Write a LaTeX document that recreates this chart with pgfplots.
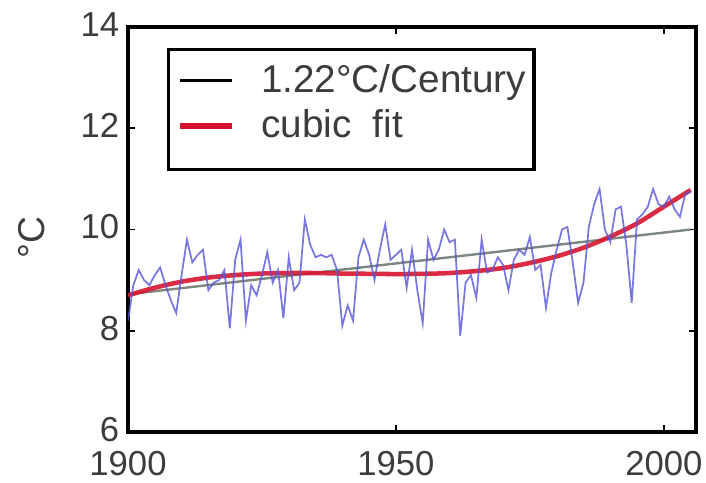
\documentclass[border=0pt]{standalone}
\usepackage{fontspec}
\setmainfont{Liberation Sans}
\usepackage{pgfplots}
\pgfplotsset{compat=1.18}
\definecolor{serblue}{RGB}{85,85,215}
\definecolor{fitred}{RGB}{215,20,45}
\definecolor{trendgray}{RGB}{125,135,125}
\definecolor{txt}{RGB}{60,60,60}
\begin{document}
\begin{tikzpicture}
\begin{axis}[
  name=ax,
  scale only axis,
  width=426pt, height=303.75pt,
  xmin=1900, xmax=2006, ymin=6, ymax=14,
  xtick={1900,1950,2000}, ytick={6,8,10,12,14},
  /pgf/number format/1000 sep={},
  /pgf/number format/assume math mode=true,
  tick align=inside,
  major tick length=5pt,
  tick style={line width=1.3pt, black},
  axis line style={line width=2.5pt, black},
  ticklabel style={font=\fontsize{26}{26}\selectfont, text=txt, inner sep=0.5pt},
  xticklabel style={yshift=-13.5pt},
  yticklabel style={xshift=-6pt, yshift=2pt},
  ylabel={°C},
  ylabel style={font=\fontsize{28}{28}\selectfont, text=txt, at={(axis description cs:-0.169,0.48)}, anchor=center},
  legend style={at={(rel axis cs:0.0687,0.948)}, anchor=north west,
    draw=black, line width=2.3pt, fill=white,
    font=\fontsize{29}{33}\selectfont, text=txt,
    inner xsep=6pt, inner ysep=11pt,
    nodes={inner sep=0pt, text height=21pt, text depth=13pt},
    /tikz/every odd column/.append style={column sep=20pt},
    cells={anchor=west}},
  legend image code/.code={\draw (0pt,5pt) -- (39pt,5pt);},
]
% linear trend
\addplot[trendgray, line width=1.8pt, forget plot] coordinates {(1900,8.72) (2005,10.0)};
% cubic fit
\addplot[fitred, line width=3.4pt, opacity=0.9, smooth, forget plot] coordinates {
(1900,8.70) (1905,8.85) (1910,8.97) (1915,9.05) (1920,9.10) (1925,9.13) (1930,9.14)
(1935,9.14) (1940,9.13) (1945,9.125) (1950,9.12) (1955,9.124) (1960,9.14) (1965,9.18)
(1970,9.24) (1975,9.34) (1980,9.47) (1985,9.64) (1990,9.86) (1995,10.12) (2000,10.45) (2005,10.78)};
% annual series
\addplot[serblue, line width=1.3pt, opacity=0.8, forget plot] coordinates {
(1900,8.2) (1901,8.9) (1902,9.2) (1903,9.0) (1904,8.9) (1905,9.1) (1906,9.25) (1907,8.9)
(1908,8.6) (1909,8.35) (1910,9.1) (1911,9.8) (1912,9.35) (1913,9.5) (1914,9.6) (1915,8.8)
(1916,8.95) (1917,9.0) (1918,9.2) (1919,8.05) (1920,9.4) (1921,9.8) (1922,8.2) (1923,8.9)
(1924,8.7) (1925,9.1) (1926,9.55) (1927,8.95) (1928,9.2) (1929,8.25) (1930,9.45) (1931,8.8)
(1932,8.95) (1933,10.2) (1934,9.7) (1935,9.45) (1936,9.5) (1937,9.45) (1938,9.5) (1939,9.2)
(1940,8.1) (1941,8.5) (1942,8.2) (1943,9.45) (1944,9.8) (1945,9.5) (1946,9.0) (1947,9.6)
(1948,10.1) (1949,9.4) (1950,9.5) (1951,9.6) (1952,8.85) (1953,9.6) (1954,8.8) (1955,8.15)
(1956,9.8) (1957,9.4) (1958,9.6) (1959,10.0) (1960,9.75) (1961,9.8) (1962,7.9) (1963,8.95)
(1964,9.1) (1965,8.65) (1966,9.8) (1967,9.15) (1968,9.2) (1969,9.45) (1970,9.3) (1971,8.8)
(1972,9.4) (1973,9.6) (1974,9.5) (1975,9.85) (1976,9.2) (1977,9.3) (1978,8.45) (1979,9.15)
(1980,9.6) (1981,10.0) (1982,10.05) (1983,9.35) (1984,8.55) (1985,8.95) (1986,10.05) (1987,10.5)
(1988,10.8) (1989,10.0) (1990,9.75) (1991,10.4) (1992,10.45) (1993,9.7) (1994,8.55) (1995,10.2)
(1996,10.3) (1997,10.45) (1998,10.8) (1999,10.5) (2000,10.45) (2001,10.65) (2002,10.4) (2003,10.25)
(2004,10.7) (2005,10.75)};
\addlegendimage{black, line width=2pt}
\addlegendentry{1.22°C/Century}
\addlegendimage{fitred, line width=4.5pt}
\addlegendentry{cubic\ \ fit}
\end{axis}
\pgfresetboundingbox
\useasboundingbox ([xshift=-96pt,yshift=-37.5pt]ax.south west) rectangle ([xshift=7.5pt,yshift=20.25pt]ax.north east);
\end{tikzpicture}
\end{document}
